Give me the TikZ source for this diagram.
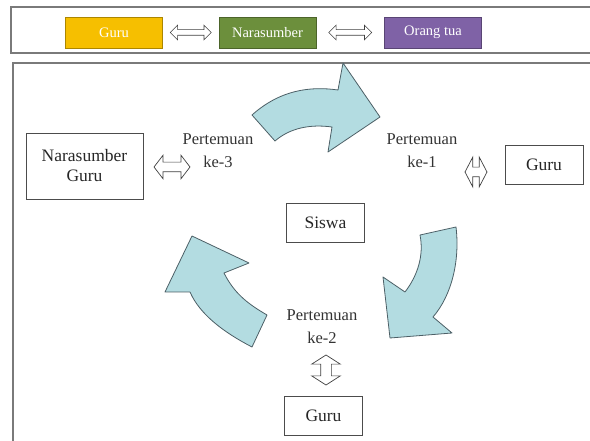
\documentclass[tikz,border=0pt]{standalone}
\usepackage{fontspec}
\setmainfont{Liberation Serif}
\usetikzlibrary{shapes.arrows,calc}

\definecolor{kuning}{HTML}{F6BF00}
\definecolor{hijau}{HTML}{6C8F3C}
\definecolor{ungu}{HTML}{7F62A6}
\definecolor{birumuda}{HTML}{B3DCE1}
\definecolor{garis}{HTML}{4C5F66}
\definecolor{bingkai}{HTML}{7A7A7A}

\tikzset{
  kotak/.style={draw=black!70, line width=0.8pt, inner sep=0pt, align=center,
    minimum width=78pt, minimum height=39pt, text=black!85,
    font=\fontsize{17.5}{20}\selectfont},
  legenda/.style={draw=#1!70!black, fill=#1, line width=0.8pt, inner sep=0pt,
    minimum width=97pt, minimum height=31pt, text=white,
    font=\fontsize{14.5}{16}\selectfont},
  teks/.style={align=center, inner sep=0pt, text=black!80,
    font=\fontsize{16.5}{23}\selectfont},
  panah/.style={double arrow, draw=black!75, fill=white, line width=0.7pt,
    inner xsep=0pt, minimum width=0pt}
}

\begin{document}
\begin{tikzpicture}[x=1pt, y=-1pt]
    \useasboundingbox (0,0) rectangle (590,441);
    \clip (0,0) rectangle (590,441);
    % Bingkai
    \draw[bingkai, line width=1.2pt] (11,7) rectangle (620,53);
    \draw[bingkai, line width=1.2pt] (13,63) rectangle (620,470);

    % Legenda
    \node[legenda=kuning] (lguru) at (114,32.5) {Guru};
    \node[legenda=hijau]  (lnara) at (267.5,32.5) {Narasumber};
    \node[legenda=ungu]   (lortu) at (433,32.5) {Orang tua};
    \node[panah, minimum height=41pt, inner ysep=2.5pt,
          double arrow head extend=4.5pt] (la) at ($(lguru.east)!0.5!(lnara.west)$) {};
    \node[panah, minimum height=43pt, inner ysep=2.5pt,
          double arrow head extend=4.5pt] (lb) at ($(lnara.east)!0.5!(lortu.west)$) {};

    % Kotak
    \node[kotak] (siswa) at (325.5,223) {Siswa};
    \node[kotak] (guru1) at (544,164.5) {Guru};
    \node[kotak] (guru2) at (323.5,415.5) {Guru};
    \node[kotak, minimum width=117pt, minimum height=66pt] (guru3) at (84.5,166)
        {Narasumber\\Guru};

    % Pertemuan
    \node[teks] (p1) at (422,151) {Pertemuan\\ke-1};
    \node[teks] (p2) at (322,327) {Pertemuan\\ke-2};
    \node[teks] (p3) at (218,151) {Pertemuan\\ke-3};

    % Panah ganda
    \node[panah, minimum height=22pt, inner ysep=4.5pt,
          double arrow head extend=10pt, double arrow tip angle=125] (a1) at (476,172) {};
    \node[panah, rotate=90, minimum height=30pt, inner ysep=5pt,
          double arrow head extend=9pt, double arrow tip angle=115] (a2) at (326,370) {};
    \node[panah, minimum height=36pt, inner ysep=4.5pt,
          double arrow head extend=7pt, double arrow tip angle=105] (a3) at (172,167) {};

    % Panah melengkung
    \tikzset{putar/.style={fill=birumuda, draw=garis, line width=0.8pt, line join=round}}
    \draw[putar] (252,115) .. controls (280,90) and (310,86) .. (338,90)
        -- (343,63) -- (380,117) -- (328,152) -- (332,127)
        .. controls (310,124) and (290,128) .. (275,141) -- cycle;
    \draw[putar] (456,227) .. controls (460,260) and (452,295) .. (433,317)
        -- (452,333) -- (390,338) -- (383,277) -- (405,292)
        .. controls (418,275) and (424,255) .. (420,235) -- cycle;
    \draw[putar] (252,347) .. controls (225,333) and (200,315) .. (190,292)
        -- (165,292) -- (192,236) -- (249,263) -- (224,273)
        .. controls (235,295) and (250,305) .. (267,315) -- cycle;
\end{tikzpicture}
\end{document}
